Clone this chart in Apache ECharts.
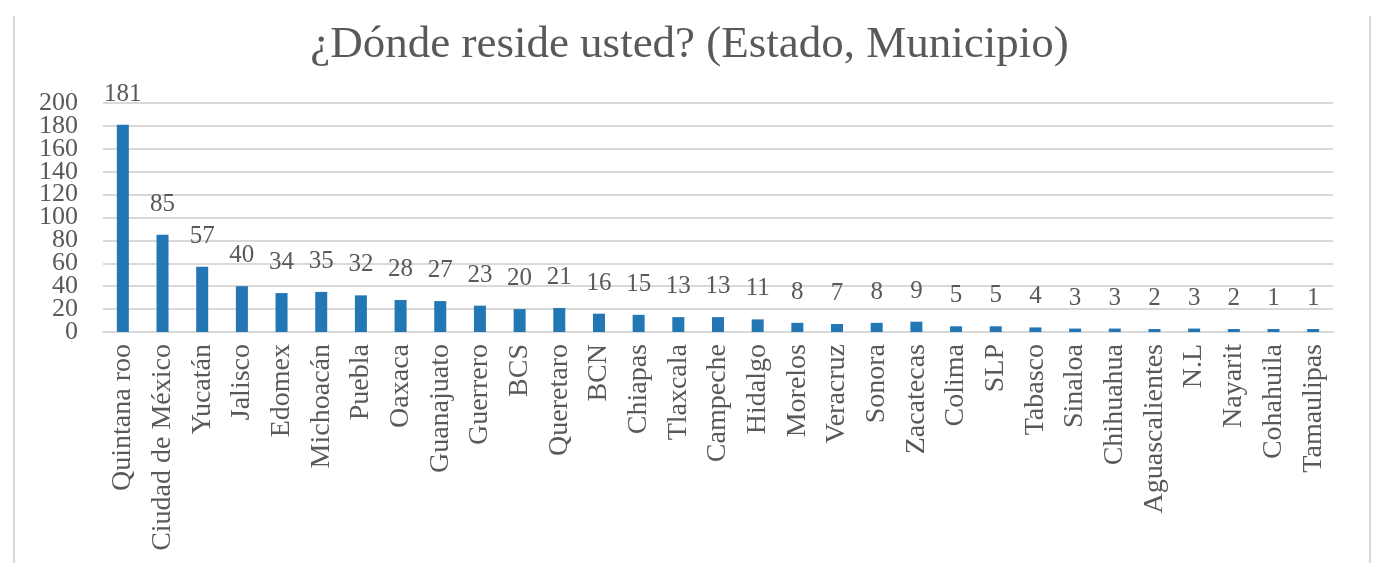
<!DOCTYPE html>
<html>
<head>
<meta charset="utf-8">
<script src="https://cdn.jsdelivr.net/npm/echarts@6/dist/echarts.min.js"></script>
<style>
html,body{margin:0;padding:0;background:#fff;}
#c{width:1379px;height:563px;}
</style>
</head>
<body>
<div id="c"></div>
<script>
const titleText = '¿Dónde reside usted? (Estado, Municipio)';
const categories = ['Quintana roo','Ciudad de México','Yucatán','Jalisco','Edomex','Michoacán','Puebla','Oaxaca','Guanajuato','Guerrero','BCS','Queretaro','BCN','Chiapas','Tlaxcala','Campeche','Hidalgo','Morelos','Veracruz','Sonora','Zacatecas','Colima','SLP','Tabasco','Sinaloa','Chihuahua','Aguascalientes','N.L','Nayarit','Cohahuila','Tamaulipas'];
const values = [181,85,57,40,34,35,32,28,27,23,20,21,16,15,13,13,11,8,7,8,9,5,5,4,3,3,2,3,2,1,1];
const yTicks = [0,20,40,60,80,100,120,140,160,180,200];
const yMin = yTicks[0], yMax = yTicks[yTicks.length-1];

const serif = '"Liberation Serif","DejaVu Serif",serif';
const yLabelStyle = {margin: 25, fontFamily: serif, fontSize: 26, color: '#595959'};
const chart = echarts.init(document.getElementById('c'));
chart.setOption({
  animation: false,
  backgroundColor: '#fff',
  title: {
    text: titleText, left: 'center', top: 18,
    textStyle: {fontFamily: serif, fontSize: 45, fontWeight: 'normal', color: '#595959'}
  },
  grid: {left: 103, right: 46, top: 103, bottom: 231},
  xAxis: {
    type: 'category', data: categories,
    axisLine: {lineStyle: {color: '#d9d9d9', width: 2}},
    axisTick: {show: false},
    axisLabel: {rotate: 90, interval: 0, margin: 12, fontFamily: serif, fontSize: 28, color: '#595959'}
  },
  yAxis: [{
    type: 'value', position: 'left', min: yMin, max: yMax, interval: 40,
    axisLine: {show: false}, axisTick: {show: false}, splitLine: {show: false},
    axisLabel: Object.assign({}, yLabelStyle)
  }, {
    type: 'value', position: 'left', offset: 0, min: yMin, max: yMax, interval: 20,
    axisLine: {show: false}, axisTick: {show: false},
    splitLine: {show: true, lineStyle: {color: '#d9d9d9', width: 2}},
    axisLabel: Object.assign({}, yLabelStyle, {
      showMinLabel: false, showMaxLabel: false,
      formatter: v => (v % 40 === 0 ? '' : String(v))
    })
  }],
  series: [{
    type: 'bar', data: values, barWidth: 12, barMinHeight: 3, yAxisIndex: 0,
    itemStyle: {color: '#2277b4'},
    label: {show: true, position: 'top', distance: 18, fontFamily: serif, fontSize: 25, color: '#595959'}
  }],
  graphic: [
    {type: 'line', shape: {x1: 14, y1: 16, x2: 14, y2: 563}, style: {stroke: '#d9d9d9', lineWidth: 2}},
    {type: 'line', shape: {x1: 1370, y1: 16, x2: 1370, y2: 563}, style: {stroke: '#d9d9d9', lineWidth: 2}}
  ]
});
</script>
</body>
</html>
